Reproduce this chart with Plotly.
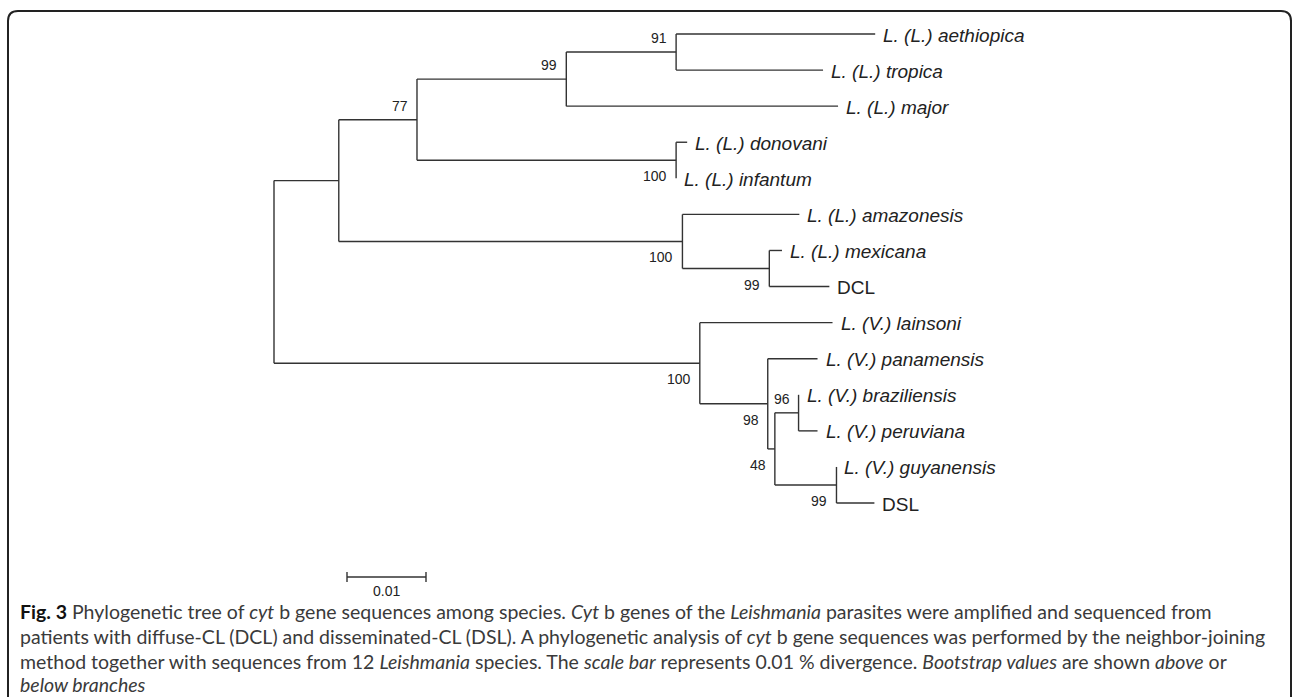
import plotly.graph_objects as go

# ---------------- data ----------------
leaf_names = [
    "<i>L. (L.) aethiopica</i>", "<i>L. (L.) tropica</i>", "<i>L. (L.) major</i>",
    "<i>L. (L.) donovani</i>", "<i>L. (L.) infantum</i>", "<i>L. (L.) amazonesis</i>",
    "<i>L. (L.) mexicana</i>", "DCL", "<i>L. (V.) lainsoni</i>",
    "<i>L. (V.) panamensis</i>", "<i>L. (V.) braziliensis</i>", "<i>L. (V.) peruviana</i>",
    "<i>L. (V.) guyanensis</i>", "DSL",
]
# node ids: 0-13 leaves, 14-26 internal nodes (26 = root)
node_parent = [14, 14, 15, 16, 16, 19, 18, 18, 25, 24, 21, 21, 22, 22,
               15, 17, 17, 20, 19, 20, 26, 23, 23, 24, 25, 26, None]
branch_length = [0.0252, 0.0186, 0.0344, 0.0014, 0.0, 0.0148, 0.0016, 0.0076,
                 0.0168, 0.0063, 0.0, 0.0024, 0.0, 0.0048,
                 0.0139, 0.0189, 0.0328, 0.0099, 0.0110, 0.0435, 0.0082,
                 0.0030, 0.0078, 0.0009, 0.0086, 0.0539, 0.0]
bootstrap_node = [14, 15, 16, 17, 18, 19, 21, 22, 23, 24, 25]
bootstrap_value = ["91", "99", "100", "77", "99", "100", "96", "99", "48", "98", "100"]
bootstrap_above = [True, True, False, True, False, False, True, False, False, False, False]
scale_length = 0.01
scale_label = "0.01"

caption_lines = [
    "<b><span style='color:#111111'>Fig. 3</span></b> Phylogenetic tree of <i>cyt</i> b gene sequences among species. <i>Cyt</i> b genes of the <i>Leishmania</i> parasites were amplified and sequenced from",
    "patients with diffuse-CL (DCL) and disseminated-CL (DSL). A phylogenetic analysis of <i>cyt</i> b gene sequences was performed by the neighbor-joining",
    "method together with sequences from 12 <i>Leishmania</i> species. The <i>scale bar</i> represents 0.01 % divergence. <i>Bootstrap values</i> are shown <i>above</i> or",
    "<i>below branches</i>",
]

# ---------------- layout helpers ----------------
W, H = 1292, 697
X0_PX, PX_PER_UNIT = 274, 7900.0
Y0_PX, PX_PER_LEAF = 34, 36.08


def px_to_x(px):
    return (px - X0_PX) / PX_PER_UNIT


def px_to_y(py):
    return (py - Y0_PX) / PX_PER_LEAF


n_nodes = len(node_parent)
n_leaves = len(leaf_names)
children = {i: [] for i in range(n_nodes)}
for i, p in enumerate(node_parent):
    if p is not None:
        children[p].append(i)
root = node_parent.index(None)

xpos = [0.0] * n_nodes
ypos = [0.0] * n_nodes


def place_x(n, base):
    xpos[n] = base + branch_length[n]
    for c in children[n]:
        place_x(c, xpos[n])


def place_y(n):
    if n < n_leaves:
        ypos[n] = float(n)
    else:
        ys = [place_y(c) for c in children[n]]
        ypos[n] = sum(ys) / len(ys)
    return ypos[n]


place_x(root, 0.0)
place_y(root)

lx, ly = [], []
for n in range(n_nodes):
    if children[n]:
        cy = [ypos[c] for c in children[n]]
        lx += [xpos[n], xpos[n], None]
        ly += [min(cy), max(cy), None]
        for c in children[n]:
            lx += [xpos[n], xpos[c], None]
            ly += [ypos[c], ypos[c], None]

fig = go.Figure()
fig.add_trace(go.Scatter(x=lx, y=ly, mode="lines", line=dict(color="#333333", width=1.4),
                         hoverinfo="skip", showlegend=False))

# scale bar
sb_x0 = px_to_x(347)
sb_y = px_to_y(577)
tick = 5 / PX_PER_LEAF
fig.add_trace(go.Scatter(
    x=[sb_x0, sb_x0 + scale_length, None, sb_x0, sb_x0, None, sb_x0 + scale_length, sb_x0 + scale_length],
    y=[sb_y, sb_y, None, sb_y - tick, sb_y + tick, None, sb_y - tick, sb_y + tick],
    mode="lines", line=dict(color="#333333", width=1.4), hoverinfo="skip", showlegend=False))

annotations = []
tree_font = "Liberation Sans, Arial, sans-serif"
for i, name in enumerate(leaf_names):
    annotations.append(dict(x=xpos[i], y=ypos[i], text=name, showarrow=False,
                            xanchor="left", yanchor="middle", xshift=6, yshift=-1,
                            font=dict(family=tree_font, size=19, color="#222222")))
for n, v, above in zip(bootstrap_node, bootstrap_value, bootstrap_above):
    annotations.append(dict(x=xpos[n], y=ypos[n], text=v, showarrow=False,
                            xanchor="right", yanchor="middle", xshift=-7,
                            yshift=14 if above else -16,
                            font=dict(family=tree_font, size=14, color="#222222")))
annotations.append(dict(x=sb_x0 + scale_length / 2, y=px_to_y(591), text=scale_label,
                        showarrow=False, xanchor="center", yanchor="middle",
                        font=dict(family=tree_font, size=14, color="#222222")))

cap_y = [611, 636, 661, 684]
for line, py in zip(caption_lines, cap_y):
    annotations.append(dict(xref="paper", yref="paper", x=18 / W, y=1 - py / H, text=line,
                            showarrow=False, xanchor="left", yanchor="middle",
                            font=dict(family="Lato, sans-serif", size=19.5, color="#3a3a3a")))


def P(x, y):
    return f"{x / W:.5f},{1 - y / H:.5f}"


border = (f"M {P(8, 700)} L {P(8, 21)} Q {P(8, 11)} {P(18, 11)} "
          f"L {P(1281, 11)} Q {P(1291, 11)} {P(1291, 21)} L {P(1291, 700)}")

fig.update_layout(
    width=W, height=H, margin=dict(l=0, r=0, t=0, b=0),
    paper_bgcolor="white", plot_bgcolor="white",
    xaxis=dict(range=[px_to_x(0), px_to_x(W)], visible=False, fixedrange=True),
    yaxis=dict(range=[px_to_y(H), px_to_y(0)], visible=False, fixedrange=True),
    annotations=annotations,
    shapes=[dict(type="path", xref="paper", yref="paper", path=border,
                 line=dict(color="#222222", width=2))],
    showlegend=False,
)

fig.write_html("out.html", config={"displayModeBar": False},
               post_script="document.body.style.margin='0';document.body.style.overflow='hidden';")
